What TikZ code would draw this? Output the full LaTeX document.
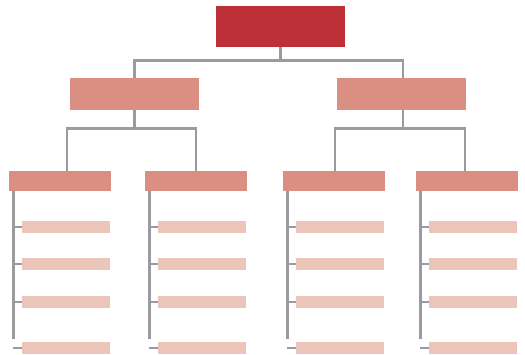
\documentclass[tikz,border=0pt]{standalone}
\usepackage{tikz}

\definecolor{topred}{HTML}{BE3038}
\definecolor{midpink}{HTML}{DB8E82}
\definecolor{itempink}{HTML}{EBC4BA}
\definecolor{linegray}{HTML}{9B9B9F}

\begin{document}
\begin{tikzpicture}[x=1pt,y=-1pt,
  box/.style={rectangle,inner sep=0pt,draw=none},
  topbox/.style={box,fill=topred,minimum width=129pt,minimum height=41pt},
  midbox/.style={box,fill=midpink,minimum width=129pt,minimum height=32pt},
  grpbox/.style={box,fill=midpink,minimum width=102pt,minimum height=20pt},
  itembox/.style={box,fill=itempink,minimum width=88pt,minimum height=12pt},
  conn/.style={draw=linegray,line width=2.8pt}]
\useasboundingbox (0,0) rectangle (525,355);

\node[topbox] (root) at (280.5,26.5) {};
\node[midbox] (ml) at (134.5,94) {};
\node[midbox] (mr) at (401.5,94) {};

\node[grpbox] (g1) at (60,181) {};
\node[grpbox] (g2) at (196,181) {};
\node[grpbox] (g3) at (334,181) {};
\node[grpbox] (g4) at (467,181) {};

\draw[conn] (root.south) -- ++(0,13) coordinate (topbus);
\draw[conn] (ml.north) |- (topbus) -| ([xshift=1.5pt]mr.north);

\draw[conn] (ml.south) -- ++(0,18) coordinate (lbus);
\draw[conn] ([xshift=7pt]g1.north) |- (lbus) -| (g2.north);

\draw[conn] ([xshift=1.5pt]mr.south) -- ++(0,18) coordinate (rbus);
\draw[conn] ([xshift=1pt]g3.north) |- (rbus) -| ([xshift=-2pt]g4.north);

% spines and items
\foreach \g/\x in {g1/9,g2/145,g3/283,g4/416} {
  \draw[conn] (\g.south west) ++(4.5,0) coordinate (\g s) -- ++(0,148);
  \foreach \i/\y in {1/227,2/264,3/302,4/348} {
    \node[itembox,anchor=west] (\g i\i) at (\x+13,\y) {};
    \draw[conn] (\g s |- \g i\i.west) -- (\g i\i.west);
  }
}
\end{tikzpicture}
\end{document}
